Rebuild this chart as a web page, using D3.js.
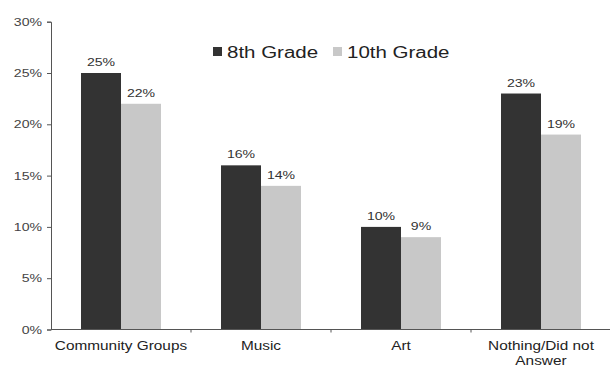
<!DOCTYPE html>
<html><head><meta charset="utf-8">
<script src="https://cdn.jsdelivr.net/npm/d3@7"></script>
<style>body{margin:0;background:#fff}svg{display:block}text{font-family:"Liberation Sans",Arial,sans-serif}</style>
</head><body><svg id="c" width="610" height="368"></svg>
<script>
const categories = ["Community Groups", "Music", "Art", "Nothing/Did not Answer"];
const categoryLines = [["Community Groups"], ["Music"], ["Art"], ["Nothing/Did not", "Answer"]];
const seriesNames = ["8th Grade", "10th Grade"];
const grade8 = [25, 16, 10, 23];
const grade10 = [22, 14, 9, 19];
const yTicks = [0, 5, 10, 15, 20, 25, 30];
const colors = ["#333333", "#c8c8c8"];

const K = 1.28; // horizontal stretch of the text in the reference
function stretch(sel) {
  sel.each(function () {
    const w = this.getComputedTextLength();
    d3.select(this).attr("textLength", w * K).attr("lengthAdjust", "spacingAndGlyphs");
  });
}

const svg = d3.select("#c");
const x = d3.scaleBand().domain(categories).range([51, 611]);
const y = d3.scaleLinear().domain([0, 30]).range([329.5, 21.7]);
const series = [grade8, grade10];
const barW = 40;

// bars
categories.forEach((c, i) => {
  series.forEach((s, j) => {
    const cx = x(c) + x.bandwidth() / 2;
    const bx = cx - barW + j * barW;
    svg.append("rect").attr("x", bx).attr("y", y(s[i])).attr("width", barW)
      .attr("height", y(0) - y(s[i])).attr("fill", colors[j]);
    const t = svg.append("text").attr("x", bx + barW / 2).attr("y", y(s[i]) - 7)
      .attr("text-anchor", "middle").attr("font-size", 11).attr("fill", "#333")
      .text(s[i] + "%");
    stretch(t);
  });
});

// y axis
const ya = svg.append("g").attr("transform", "translate(51,0)")
  .call(d3.axisLeft(y).tickValues(yTicks).tickFormat(d => d + "%").tickSize(4).tickPadding(5));
ya.select(".domain").attr("stroke", "#555");
ya.selectAll(".tick line").attr("stroke", "#555");
ya.selectAll("text").attr("font-size", 11).attr("fill", "#444")
  .attr("font-family", '"Liberation Sans",Arial,sans-serif');
stretch(ya.selectAll("text"));

// x axis
svg.append("line").attr("x1", 51).attr("x2", 610).attr("y1", y(0)).attr("y2", y(0)).attr("stroke", "#555");
categories.forEach((c, i) => {
  if (i > 0) svg.append("line").attr("x1", x(c)).attr("x2", x(c)).attr("y1", y(0)).attr("y2", y(0) + 3).attr("stroke", "#555");
  categoryLines[i].forEach((l, k) => {
    const t = svg.append("text").attr("x", x(c) + x.bandwidth() / 2).attr("y", 350 + k * 15)
      .attr("text-anchor", "middle").attr("font-size", 12).attr("fill", "#222").text(l);
    stretch(t);
  });
});

// legend
const lx = [213, 333];
seriesNames.forEach((n, j) => {
  svg.append("rect").attr("x", lx[j]).attr("y", 47).attr("width", 9).attr("height", 9)
    .attr("fill", colors[j]);
  const t = svg.append("text").attr("x", lx[j] + 14).attr("y", 57.5).attr("font-size", 16).attr("fill", "#222").text(n);
  stretch(t);
});
</script></body></html>
